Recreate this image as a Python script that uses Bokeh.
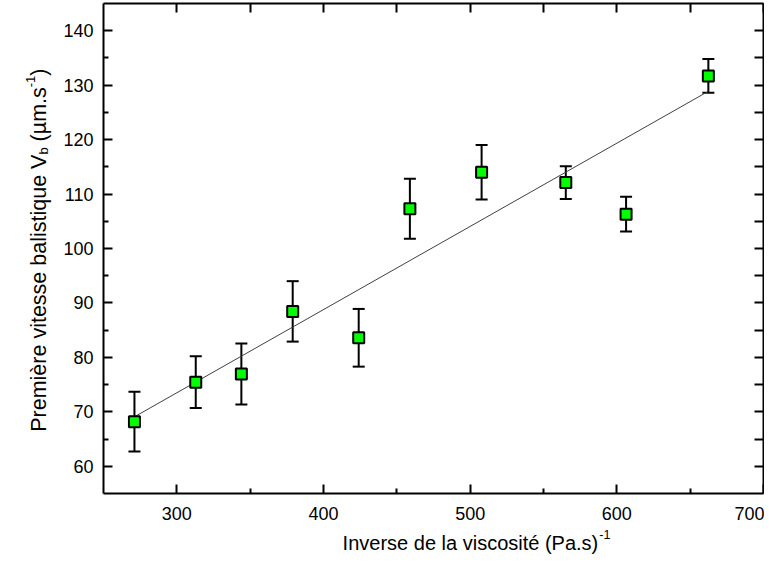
import math
from bokeh.plotting import figure
from bokeh.models import (ColumnDataSource, Whisker, TeeHead, Label, Range1d,
                          LinearAxis, FixedTicker)
from bokeh.embed import file_html
from bokeh.resources import INLINE

# ---------------- data ----------------
inv_viscosity = [271.1, 312.9, 344.0, 379.0, 424.0, 458.9, 507.8, 565.2, 606.3, 662.4]
v_ballistic = [68.2, 75.45, 76.95, 88.45, 83.6, 107.3, 114.0, 112.1, 106.3, 131.7]
v_error = [5.5, 4.75, 5.6, 5.55, 5.3, 5.5, 5.0, 3.0, 3.2, 3.1]
fit_slope = 0.1528
fit_intercept = 27.66

x_lim = (250, 700)
y_lim = (55, 145)
x_major = [300, 400, 500, 600, 700]
x_minor = [350, 450, 550, 650]
y_major = [60, 70, 80, 90, 100, 110, 120, 130, 140]
y_minor = [65, 75, 85, 95, 105, 115, 125, 135]

x_title = "Inverse de la viscosité (Pa.s)"
x_title_sup = "-1"
y_title_main = "Première vitesse balistique V"
y_title_sub = "b"
y_title_mid = " (µm.s"
y_title_sup = "-1"
y_title_end = ")"

FONT = "Liberation Sans"

# ---------------- layout (pixels) ----------------
W_PX, H_PX = 764, 554
BOX_L, BOX_R, BOX_T, BOX_B = 103, 763, 3, 493   # plot box in canvas pixels

sx = (BOX_R - BOX_L) / (x_lim[1] - x_lim[0])
sy = (BOX_B - BOX_T) / (y_lim[1] - y_lim[0])
xr = Range1d(x_lim[0] - BOX_L / sx, x_lim[1] + (W_PX - BOX_R) / sx)
yr = Range1d(y_lim[0] - (H_PX - BOX_B) / sy, y_lim[1] + BOX_T / sy)

src = ColumnDataSource(dict(
    x=inv_viscosity,
    y=v_ballistic,
    upper=[v + e for v, e in zip(v_ballistic, v_error)],
    lower=[v - e for v, e in zip(v_ballistic, v_error)],
))

fit_x = [min(inv_viscosity), max(inv_viscosity)]
fit_y = [fit_intercept + fit_slope * xx for xx in fit_x]

p = figure(width=W_PX, height=H_PX, x_range=xr, y_range=yr,
           output_backend="svg", toolbar_location=None, min_border=0,
           x_axis_location=None, y_axis_location=None)
p.xgrid.visible = False
p.ygrid.visible = False
p.outline_line_color = None
p.background_fill_color = "white"
p.border_fill_color = "white"


def make_axis(ticks, minor, loc, bounds, labels):
    ax = LinearAxis(ticker=FixedTicker(ticks=ticks, minor_ticks=minor),
                    fixed_location=loc, bounds=bounds)
    ax.axis_line_width = 2
    ax.axis_line_color = "black"
    ax.major_tick_in = 9
    ax.major_tick_out = 0
    ax.minor_tick_in = 5
    ax.minor_tick_out = 0
    ax.major_tick_line_width = 2
    ax.minor_tick_line_width = 2
    ax.major_tick_line_color = "black"
    ax.minor_tick_line_color = "black"
    if labels:
        ax.major_label_text_font = FONT
        ax.major_label_text_font_size = "18px"
        ax.major_label_text_color = "black"
    else:
        ax.major_label_text_font_size = "0px"
        ax.major_label_text_alpha = 0
        ax.major_label_standoff = 0
    return ax


bx = make_axis(x_major, x_minor, y_lim[0], x_lim, True)
bx.major_label_standoff = 13
p.add_layout(bx, "below")

tx = make_axis(sorted(x_major + x_minor), [], y_lim[1], x_lim, False)
p.add_layout(tx, "above")

ly = make_axis(y_major, y_minor, x_lim[0], y_lim, True)
ly.major_label_standoff = 10
p.add_layout(ly, "left")

ry = make_axis(sorted(y_major + y_minor), [], x_lim[1], y_lim, False)
p.add_layout(ry, "right")

# fit line
p.line(fit_x, fit_y, line_color="#404040", line_width=1)

# error bars
wh = Whisker(source=src, base="x", upper="upper", lower="lower",
             line_color="black", line_width=2, level="underlay",
             upper_head=TeeHead(size=12, line_width=2, line_color="black"),
             lower_head=TeeHead(size=12, line_width=2, line_color="black"))
p.add_layout(wh)

# points
p.scatter("x", "y", source=src, marker="square", size=11,
          fill_color="#00ff00", line_color="black", line_width=2)

# ---------------- composed axis titles ----------------
WID = {' ': 278, '(': 333, ')': 333, '.': 278, '-': 333, '1': 556, 'P': 667, 'V': 667,
       'I': 278, 'a': 556, 'b': 556, 'c': 500, 'd': 556, 'e': 556, 'é': 556, 'è': 556,
       'i': 222, 'l': 222, 'm': 833, 'n': 556, 'o': 556, 'q': 556, 'r': 333, 's': 500,
       't': 278, 'u': 556, 'v': 500, 'µ': 576}


def tw(s, size):
    return sum(WID.get(c, 556) for c in s) * size / 1000.0


def lab(x_img, y_img, text, size, angle=0.0):
    return Label(x=x_img, y=H_PX - y_img, x_units="screen", y_units="screen", text=text,
                 text_font=FONT, text_font_size=f"{size}px", text_color="black",
                 text_align="left", text_baseline="alphabetic", angle=angle)


# x title (horizontal)
FX, FXS = 20, 12.5
x_center_img = 476
x_base_img = 542
xw = tw(x_title, FX) + 1 + tw(x_title_sup, FXS)
x_left_img = x_center_img - xw / 2
p.add_layout(lab(x_left_img, x_base_img, x_title, FX))
p.add_layout(lab(x_left_img + tw(x_title, FX) + 1, x_base_img - 0.38 * FX, x_title_sup, FXS))

# y title (rotated, reads bottom to top)
FY, FYS = 21.5, 13
parts = [(y_title_main, FY, 0.0), (y_title_sub, FYS, 0.22 * FY), (y_title_mid, FY, 0.0),
         (y_title_sup, FYS, -0.38 * FY), (y_title_end, FY, 0.0)]
yl = sum(tw(t, s) for t, s, _ in parts)
y_top_img = 68
y_base_img_x = 38
pos = y_top_img + yl          # image y where the text starts (bottom)
for t, s, shift in parts:
    lead = len(t) - len(t.lstrip(" "))
    adv = tw(" " * lead, s)
    p.add_layout(lab(y_base_img_x + shift, pos - adv, t.lstrip(" "), s, angle=math.pi / 2))
    pos -= tw(t, s)

open("out.html", "w").write(file_html(p, INLINE))
